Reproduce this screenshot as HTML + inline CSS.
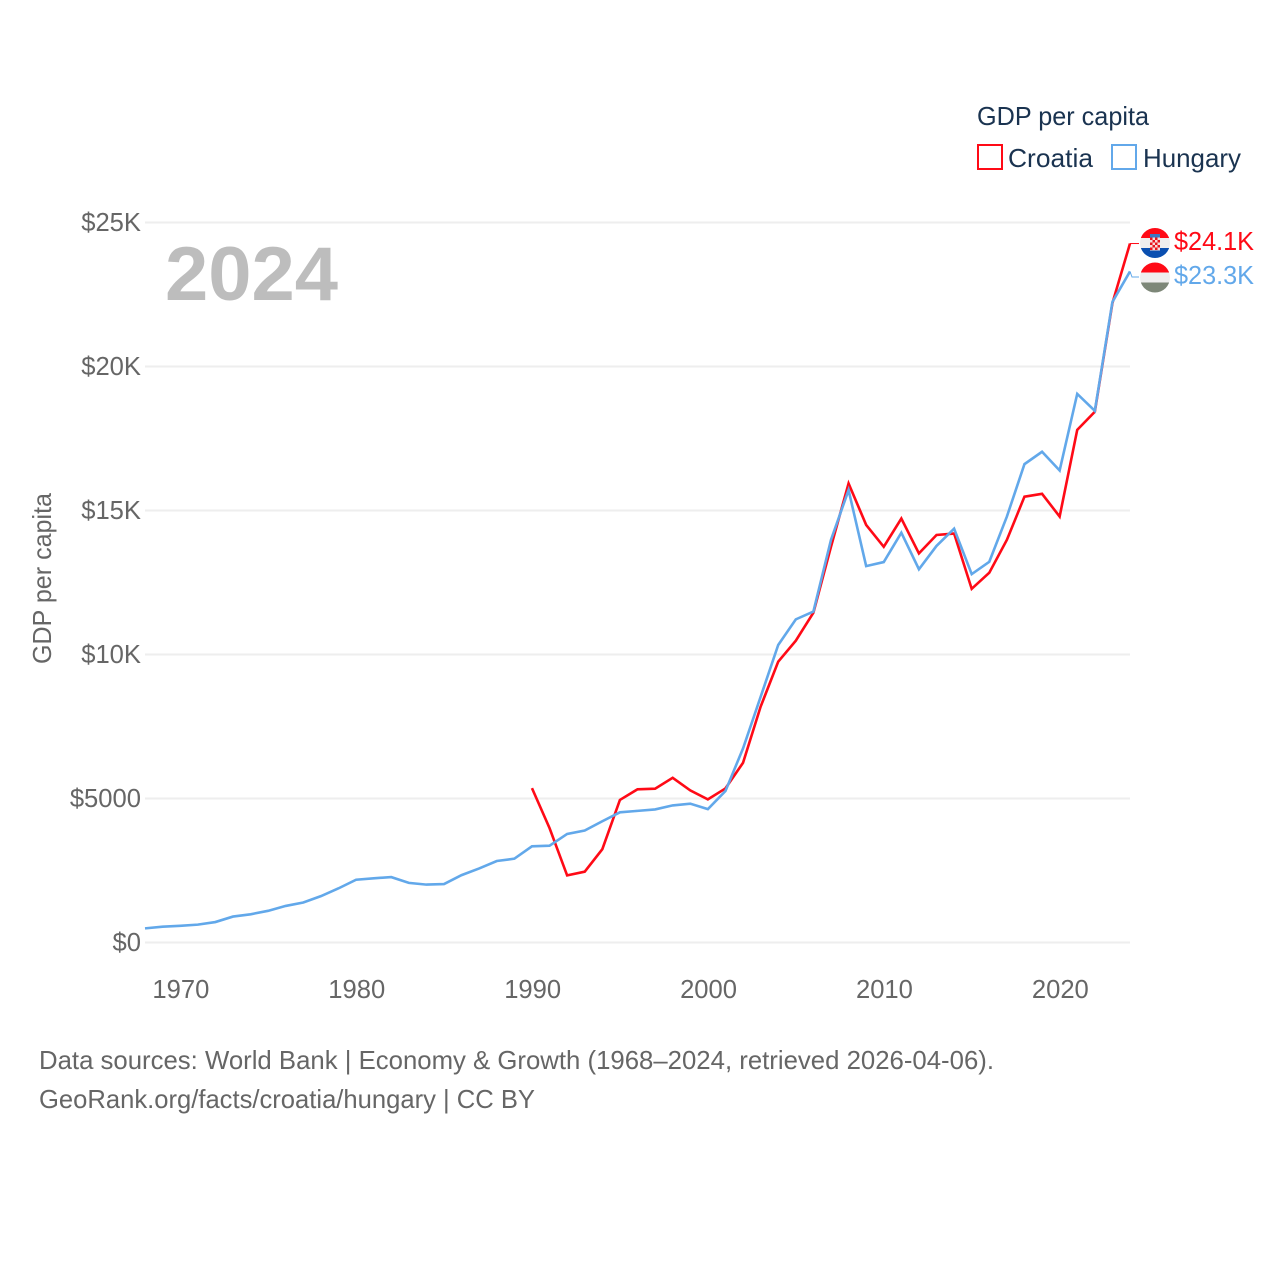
<!DOCTYPE html>
<html lang="en">
<head>
<meta charset="utf-8">
<title>GDP per capita: Croatia vs Hungary</title>
<style>
html,body{margin:0;padding:0;background:#fff;width:1280px;height:1280px;overflow:hidden}
svg{display:block}
text{font-family:"Liberation Sans",sans-serif}
</style>
</head>
<body>
<svg id="chart" xmlns="http://www.w3.org/2000/svg" width="1280" height="1280" viewBox="0 0 1280 1280">
  <defs>
    <clipPath id="flag-clip-hr"><circle cx="1155" cy="243" r="15"/></clipPath>
    <clipPath id="flag-clip-hu"><circle cx="1155" cy="277.500" r="15"/></clipPath>
  </defs>
  <g id="grid"></g>
  <g id="yticks"></g>
  <g id="xticks"></g>
  <text transform="translate(51,578.500) rotate(-90)" text-anchor="middle" font-size="25.600" fill="#666" textLength="171" lengthAdjust="spacingAndGlyphs">GDP per capita</text>
  <text x="165" y="300" font-size="76" font-weight="700" fill="#bdbdbd" textLength="173" lengthAdjust="spacingAndGlyphs">2024</text>
  <g id="series"></g>

  <g>
    <text x="977" y="125" font-size="25.600" fill="#1a3350" textLength="172" lengthAdjust="spacingAndGlyphs">GDP per capita</text>
    <g>
      <rect x="978" y="145" width="24" height="24" fill="#fff" stroke="#ff0a16" stroke-width="2"/>
      <text x="1008" y="167" font-size="25.600" fill="#1a3350" textLength="85" lengthAdjust="spacingAndGlyphs">Croatia</text>
    </g>
    <g>
      <rect x="1112" y="145" width="24" height="24" fill="#fff" stroke="#62a8ea" stroke-width="2"/>
      <text x="1143" y="167" font-size="25.600" fill="#1a3350" textLength="98" lengthAdjust="spacingAndGlyphs">Hungary</text>
    </g>
  </g>

  <g clip-path="url(#flag-clip-hr)">
    <rect x="1140" y="228" width="30" height="10" fill="#ff0a16"/>
    <rect x="1140" y="238" width="30" height="10" fill="#eeeeee"/>
    <rect x="1140" y="248" width="30" height="10" fill="#0a4fb0"/>
    <rect x="1150" y="234" width="10" height="3.500" fill="#3b78c4"/>
    <rect x="1150" y="237.500" width="10" height="13" fill="#f7dcdc"/>
    <path d="M1150 237.500h2.500v2.500h-2.500zM1155 237.500h2.500v2.500h-2.500zM1152.500 240h2.500v2.500h-2.500zM1157.500 240h2.500v2.500h-2.500zM1150 242.500h2.500v2.500h-2.500zM1155 242.500h2.500v2.500h-2.500zM1152.500 245h2.500v2.500h-2.500zM1157.500 245h2.500v2.500h-2.500zM1150 247.500h2.500v2.500h-2.500zM1155 247.500h2.500v2.500h-2.500z" fill="#e8141c"/>
  </g>
  <g clip-path="url(#flag-clip-hu)">
    <rect x="1140" y="262.500" width="30" height="10" fill="#ff0a16"/>
    <rect x="1140" y="272.500" width="30" height="10" fill="#eeeeee"/>
    <rect x="1140" y="282.500" width="30" height="10" fill="#7d8778"/>
  </g>
  <text x="1174" y="250" font-size="25.600" fill="#ff0a16" textLength="80" lengthAdjust="spacingAndGlyphs" id="label-hr"></text>
  <text x="1174" y="284" font-size="25.600" fill="#62a8ea" textLength="80" lengthAdjust="spacingAndGlyphs" id="label-hu"></text>

  <text x="39" y="1069" font-size="25.600" fill="#666" textLength="955" lengthAdjust="spacingAndGlyphs">Data sources: World Bank | Economy &amp; Growth (1968–2024, retrieved 2026-04-06).</text>
  <text x="39" y="1108" font-size="25.600" fill="#666" textLength="496" lengthAdjust="spacingAndGlyphs">GeoRank.org/facts/croatia/hungary | CC BY</text>
</svg>
<script>
const NS = 'http://www.w3.org/2000/svg';

const startYear = 1968;
const endYear = 2024;
const xTickYears = [1970, 1980, 1990, 2000, 2010, 2020];
const yTickValues = [0, 5, 10, 15, 20, 25];
const yTickLabels = ['$0', '$5000', '$10K', '$15K', '$20K', '$25K'];

// GDP per capita, thousands of USD
const croatiaStartYear = 1990;
const croatiaValues = [5.36, 3.97, 2.33, 2.46, 3.24, 4.95, 5.32, 5.34, 5.72, 5.28, 4.97, 5.35, 6.24, 8.19, 9.75, 10.48, 11.45, 13.74, 15.94, 14.50, 13.74, 14.72, 13.51, 14.15, 14.20, 12.28, 12.84, 13.98, 15.48, 15.58, 14.79, 17.80, 18.43, 22.20, 24.27];
const hungaryStartYear = 1968;
const hungaryValues = [0.49, 0.55, 0.58, 0.62, 0.71, 0.90, 0.98, 1.10, 1.27, 1.39, 1.61, 1.88, 2.18, 2.23, 2.27, 2.07, 2.01, 2.03, 2.34, 2.57, 2.83, 2.91, 3.34, 3.36, 3.77, 3.89, 4.21, 4.52, 4.57, 4.62, 4.76, 4.82, 4.63, 5.26, 6.74, 8.53, 10.33, 11.22, 11.49, 13.98, 15.71, 13.07, 13.21, 14.23, 12.96, 13.77, 14.37, 12.79, 13.22, 14.79, 16.61, 17.04, 16.39, 19.05, 18.46, 22.24, 23.30];
const croatiaLabel = '$24.1K';
const hungaryLabel = '$23.3K';

function xScale(year) {
  return 145 + (year - startYear) * (1130 - 145) / (endYear - startYear);
}
function yScale(value) {
  return 942.5 - value * 28.8;
}

const grid = document.getElementById('grid');
const yticks = document.getElementById('yticks');
const xticks = document.getElementById('xticks');
const series = document.getElementById('series');

yTickValues.forEach(function (v, i) {
  const line = document.createElementNS(NS, 'line');
  
  
  line.setAttribute('x1', 145);
  line.setAttribute('x2', 1130);
  line.setAttribute('y1', yScale(v));
  line.setAttribute('y2', yScale(v));
  line.setAttribute('stroke', '#eeeeee');
  line.setAttribute('stroke-width', 2);
  grid.appendChild(line);

  const t = document.createElementNS(NS, 'text');
  
  
  t.setAttribute('x', 141);
  t.setAttribute('y', yScale(v) + 8.5);
  t.setAttribute('text-anchor', 'end');
  t.setAttribute('font-size', 25.6);
  t.setAttribute('fill', '#666');
  t.textContent = yTickLabels[i];
  yticks.appendChild(t);
});

xTickYears.forEach(function (year) {
  const t = document.createElementNS(NS, 'text');
  
  
  t.setAttribute('x', xScale(year) + 0.7);
  t.setAttribute('y', 998);
  t.setAttribute('text-anchor', 'middle');
  t.setAttribute('font-size', 25.6);
  t.setAttribute('fill', '#666');
  t.textContent = String(year);
  xticks.appendChild(t);
});

function linePoints(first, values) {
  return values.map(function (v, i) {
    return xScale(first + i).toFixed(2) + ',' + yScale(v).toFixed(2);
  }).join(' ');
}

const croatiaLine = document.createElementNS(NS, 'polyline');


croatiaLine.setAttribute('points', linePoints(croatiaStartYear, croatiaValues));
croatiaLine.setAttribute('fill', 'none');
croatiaLine.setAttribute('stroke', '#ff0a16');
croatiaLine.setAttribute('stroke-width', 2.6);
series.appendChild(croatiaLine);

const hungaryLine = document.createElementNS(NS, 'polyline');


hungaryLine.setAttribute('points', linePoints(hungaryStartYear, hungaryValues));
hungaryLine.setAttribute('fill', 'none');
hungaryLine.setAttribute('stroke', '#62a8ea');
hungaryLine.setAttribute('stroke-width', 2.6);
series.appendChild(hungaryLine);

const croatiaEndY = yScale(croatiaValues[croatiaValues.length - 1]);
const hungaryEndY = yScale(hungaryValues[hungaryValues.length - 1]);

const croatiaLeader = document.createElementNS(NS, 'polyline');


croatiaLeader.setAttribute('points', xScale(endYear) + ',' + croatiaEndY + ' 1139,' + croatiaEndY);
croatiaLeader.setAttribute('fill', 'none');
croatiaLeader.setAttribute('stroke', '#ff0a16');
croatiaLeader.setAttribute('stroke-width', 1);
series.appendChild(croatiaLeader);

const hungaryLeader = document.createElementNS(NS, 'polyline');


hungaryLeader.setAttribute('points', xScale(endYear) + ',' + hungaryEndY + ' 1132,277 1139,277');
hungaryLeader.setAttribute('fill', 'none');
hungaryLeader.setAttribute('stroke', '#62a8ea');
hungaryLeader.setAttribute('stroke-width', 1);
series.appendChild(hungaryLeader);

document.getElementById('label-hr').textContent = croatiaLabel;
document.getElementById('label-hu').textContent = hungaryLabel;
</script>
</body>
</html>
